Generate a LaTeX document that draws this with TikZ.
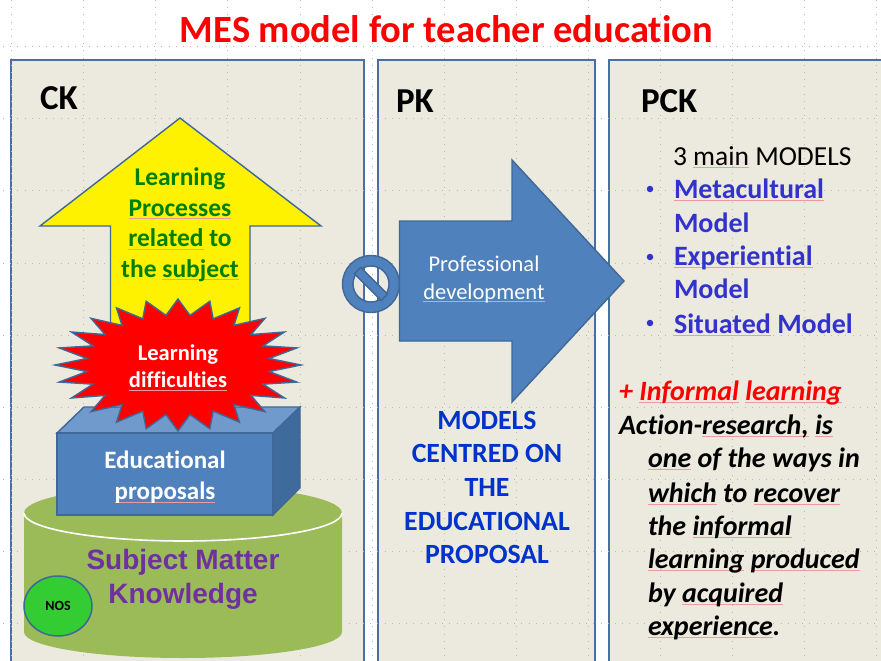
\documentclass[tikz,border=0pt]{standalone}
\usepackage{fontspec}
\setmainfont{Carlito}[Ligatures=CommonOff]
\newfontfamily\arialb{Liberation Sans}
\definecolor{panelfill}{HTML}{ECEADF}
\definecolor{panelline}{HTML}{4A6FA5}
\definecolor{shapeblue}{HTML}{4F81BD}
\definecolor{shapeline}{HTML}{3F6797}
\definecolor{cubetop}{HTML}{7099CC}
\definecolor{cubeside}{HTML}{3F6A9C}
\definecolor{cyl}{HTML}{9BBB59}
\definecolor{txtgreen}{HTML}{008000}
\definecolor{txtpurple}{HTML}{7030A0}
\definecolor{txtblue}{HTML}{0033CC}
\definecolor{listblue}{HTML}{3333CC}
\definecolor{nosgreen}{HTML}{33CC33}
\definecolor{squig}{HTML}{EE9AA0}
\newcommand\sq[1]{\leavevmode\setbox0\hbox{#1}\rlap{\textcolor{squig}{\raisebox{-2.6pt}{\rule{\wd0}{0.55pt}}}}\box0\relax}
\newcommand\fs[2]{\fontsize{#1}{#2}\selectfont}
\tikzset{
  panel/.style={draw=panelline,line width=2pt,fill=panelfill},
  griddots/.style={draw=black!28,line width=0.7pt,dash pattern=on 0.8pt off 6.4pt},
  solidshape/.style={draw=shapeline,line width=1.4pt,line join=miter},
  txt/.style={inner sep=0pt,outer sep=0pt},
  leftbase/.style={txt,anchor=base west},
  cbase/.style={txt,anchor=base},
  block/.style={txt,anchor=north,align=center},
  head/.style={leftbase,font=\bfseries\fs{35}{40}},
  listitem/.style={leftbase,font=\bfseries\fs{28}{32},text=listblue},
  bull/.style={circle,fill=listblue,inner sep=0pt,minimum size=6.5pt},
  rtext/.style={leftbase,font=\bfseries\itshape\fs{28}{33}},
}
\begin{document}
\begin{tikzpicture}[x=1pt,y=-1pt]
\useasboundingbox (0,0) rectangle (881,661);
\clip (0,0) rectangle (881,661);
\fill[white] (0,0) rectangle (881,661);
% panels
\draw[panel] (11,60) rectangle (364,680);
\draw[panel] (378,60) rectangle (595,680);
\draw[panel] (609,60) rectangle (900,680);
% grid
\foreach \gx in {11,83,155,227,300,372,444,516,588,660,732,804,876}
  \draw[griddots] (\gx,0) -- (\gx,661);
\foreach \gy in {46,118,190,263,335,407,479,551,623}
  \draw[griddots] (3,\gy) -- (881,\gy);
% title
\node[cbase,font=\bfseries\fs{38.5}{42},text=red] (title) at (446.5,43) {MES model for teacher education};
\node[head] (ck) at (40,110) {CK};
\node[head] (pk) at (396,112) {PK};
\node[head] (pck) at (641,112) {PCK};
% yellow arrow
\draw[solidshape,fill=yellow] (180,118) -- (321,226) -- (250,226) -- (250,345) -- (110.5,345) -- (110.5,226) -- (40,226) -- cycle;
\node[block,font=\bfseries\fs{25.5}{30.5},text=txtgreen] (lp) at (180,168) {Learning\\\sq{Processes}\\\sq{related} to\\the \sq{subject}};
% cylinder
\fill[cyl] (24,513) -- (24,632) arc[start angle=180,end angle=360,x radius=159pt,y radius=26pt] -- (342,513) arc[start angle=0,end angle=180,x radius=159pt,y radius=28pt] -- cycle;
\draw[white,line width=1.6pt] (24,513) arc[start angle=180,end angle=360,x radius=159pt,y radius=28pt];
% cube
\draw[solidshape,fill=cubetop] (57,433) -- (84,407) -- (300,407) -- (273,433) -- cycle;
\draw[solidshape,fill=cubeside] (273,433) -- (300,407) -- (300,488) -- (273,515) -- cycle;
\draw[solidshape,fill=shapeblue] (57,433) rectangle (273,515);
\node[block,font=\bfseries\fs{25}{31},text=white] (ep) at (165,451) {Educational\\\sq{proposals}};
% star
\draw[solidshape,fill=red,line join=miter,miter limit=20]
  plot[samples at={0,1,...,47},variable=\t] ({178+(mod(\t,2)==0 ? 123:92)*cos(\t*7.5)},{365+(mod(\t,2)==0 ? 66:50)*sin(\t*7.5)}) -- cycle;
\node[block,font=\bfseries\fs{22.5}{27},text=white] (ld) at (178,345) {Learning\\\sq{difficulties}};
% text on cylinder
\node[block,font=\arialb\bfseries\fs{28}{34},text=txtpurple] (smk) at (183,549) {Subject Matter\\Knowledge};
\draw[draw=shapeline,line width=1.5pt,fill=nosgreen] (58,606) ellipse[x radius=34pt,y radius=30pt];
\node[txt,font=\bfseries\fs{14}{16}] (nos) at (58,606) {NOS};
% no symbol
\draw[solidshape,fill=shapeblue,even odd rule] (371,284) circle[radius=28.5pt] (371,284) circle[radius=18pt];
\draw[solidshape,fill=shapeblue,rotate around={-45:(371,284)}] (352,279.5) rectangle (390,288.5);
% big arrow
\draw[solidshape,fill=shapeblue] (399.5,221) -- (512,221) -- (512,160) -- (624,281) -- (512,402) -- (512,341) -- (399.5,341) -- cycle;
\node[block,font=\fs{22.5}{27.5},text=white] (pd) at (484,256) {Professional\\\sq{development}};
% models
\node[block,font=\bfseries\fs{27.8}{33.6},text=txtblue] (mc) at (487,411) {MODELS\\CENTRED ON\\THE\\EDUCATIONAL\\PROPOSAL};
% PCK list
\node[leftbase,font=\fs{27.5}{30}] (main) at (673,165) {3 \sq{main} MODELS};
\node[bull] (b1) at (650,189) {};
\node[bull] (b2) at (650,257) {};
\node[bull] (b3) at (650,323) {};
\node[listitem] (l1) at (674,198) {\sq{Metacultural}};
\node[listitem] (l2) at (674,232) {Model};
\node[listitem] (l3) at (674,265) {\sq{Experiential}};
\node[listitem] (l4) at (674,298) {Model};
\node[listitem] (l5) at (674,333) {\sq{Situated} Model};
% informal
\node[rtext,text=red] (r0) at (619,400) {+ \sq{Informal} \sq{learning}};
\node[rtext] (r1) at (619,434) {Action-\sq{research,} \sq{is}};
\node[rtext] (r2) at (648,467) {\sq{one} of the ways in};
\node[rtext] (r3) at (648,502) {\sq{which} to \sq{recover}};
\node[rtext] (r4) at (648,535) {the \sq{informal}};
\node[rtext] (r5) at (648,568) {\sq{learning} \sq{produced}};
\node[rtext] (r6) at (648,602) {by \sq{acquired}};
\node[rtext] (r7) at (648,635) {\sq{experience}.};
\end{tikzpicture}
\end{document}
